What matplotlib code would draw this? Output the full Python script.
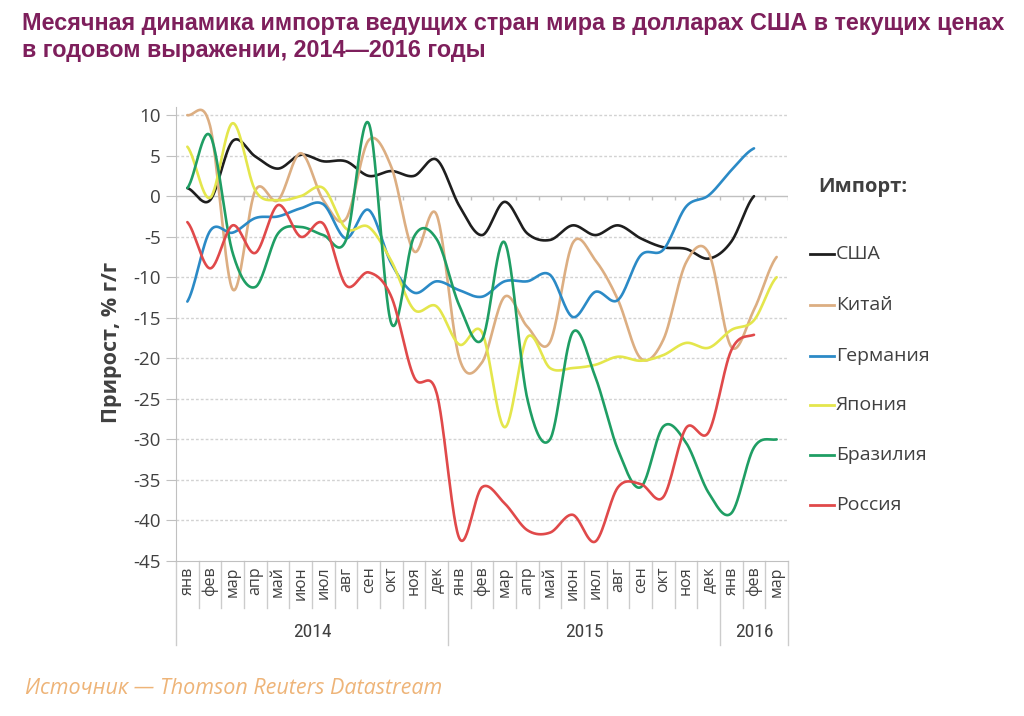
import numpy as np
import matplotlib
matplotlib.use("Agg")
import matplotlib.pyplot as plt
from matplotlib import font_manager
import matplotlib.transforms as mtransforms

# ---------------- data ----------------
months = ["янв", "фев", "мар", "апр", "май", "июн", "июл", "авг", "сен", "окт", "ноя", "дек",
          "янв", "фев", "мар", "апр", "май", "июн", "июл", "авг", "сен", "окт", "ноя", "дек",
          "янв", "фев", "мар"]
years = ["2014", "2015", "2016"]
year_first = [0, 12, 24]
year_last = [11, 23, 26]

usa = [1.0, -0.5, 6.8, 4.9, 3.4, 5.1, 4.3, 4.3, 2.5, 3.1, 2.5, 4.5,
       -1.2, -4.8, -0.7, -4.6, -5.4, -3.6, -4.8, -3.6, -5.2, -6.3, -6.5, -7.7,
       -5.6, 0.0]
china = [10.0, 8.7, -11.5, 0.7, -0.5, 5.3, -0.5, -2.8, 6.9, 3.6, -6.8, -2.3,
         -20.0, -20.5, -12.4, -16.1, -18.0, -5.8, -7.9, -12.8, -20.0, -17.7, -8.2, -7.0,
         -18.6, -14.0, -7.5]
germany = [-13.0, -4.3, -4.5, -2.7, -2.5, -1.5, -1.0, -5.2, -1.7, -8.3, -11.9, -10.5,
           -11.6, -12.4, -10.5, -10.5, -9.7, -14.9, -11.8, -12.8, -7.3, -6.6, -1.3, 0.1,
           3.2, 5.9]
japan = [6.1, -0.2, 9.0, 0.7, -0.5, 0.0, 1.0, -4.0, -3.8, -8.0, -14.0, -13.6,
         -18.3, -16.8, -28.5, -17.4, -21.2, -21.2, -20.8, -19.8, -20.3, -19.6, -18.1, -18.7,
         -16.5, -15.3, -10.0]
brazil = [1.0, 7.5, -7.0, -11.2, -4.6, -3.8, -4.8, -5.4, 9.0, -15.7, -5.0, -5.3,
          -13.5, -17.7, -5.7, -25.0, -30.0, -16.8, -22.3, -31.3, -35.9, -28.4, -30.4, -36.6,
          -39.1, -31.0, -30.0]
russia = [-3.2, -8.9, -3.6, -7.0, -1.1, -5.0, -3.4, -11.0, -9.4, -12.4, -22.3, -24.3,
          -42.2, -35.9, -37.9, -41.2, -41.5, -39.3, -42.6, -35.9, -35.5, -37.1, -28.6, -29.1,
          -19.0, -17.1]

series_names = ["США", "Китай", "Германия", "Япония", "Бразилия", "Россия"]
series_values = [usa, china, germany, japan, brazil, russia]
series_colors = ["#1e1e1e", "#dcae82", "#2b8ac6", "#e4e64c", "#1f9e64", "#e0494a"]

legend_title = "Импорт:"
y_label = "Прирост, % г/г"
title = ("Месячная динамика импорта ведущих стран мира в долларах США в текущих ценах\n"
         "в годовом выражении, 2014\u20142016 годы")
source = "Источник \u2014 Thomson Reuters Datastream"


# ---------------- helpers ----------------
def pick(fams):
    avail = {f.name for f in font_manager.fontManager.ttflist}
    for f in fams:
        if f in avail:
            return f
    return "DejaVu Sans"


def smooth(vals, n=30):
    y = np.asarray(vals, float)
    m = len(y)
    xs, ys = [], []
    for i in range(m - 1):
        p0 = y[i - 1] if i > 0 else y[i]
        p1, p2 = y[i], y[i + 1]
        p3 = y[i + 2] if i + 2 < m else y[i + 1]
        t = np.linspace(0, 1, n, endpoint=False)
        yy = 0.5 * (2 * p1 + (-p0 + p2) * t + (2 * p0 - 5 * p1 + 4 * p2 - p3) * t ** 2
                    + (-p0 + 3 * p1 - 3 * p2 + p3) * t ** 3)
        xs.append(i + t)
        ys.append(yy)
    xs.append(np.array([m - 1.0]))
    ys.append(np.array([y[-1]]))
    return np.concatenate(xs), np.concatenate(ys)


title_font = pick(["Liberation Sans", "Roboto", "DejaVu Sans"])
body_font = pick(["Open Sans", "Noto Sans", "Lato"])
narrow_font = pick(["Liberation Sans Narrow", "Roboto Condensed", "Roboto"])

W, H = 1024, 716
fig = plt.figure(figsize=(W / 100, H / 100), dpi=100)
fig.patch.set_facecolor("white")

ax_left, ax_right, ax_top, ax_bot = 176, 788, 107, 561
ax = fig.add_axes([ax_left / W, 1 - ax_bot / H, (ax_right - ax_left) / W, (ax_bot - ax_top) / H])
ax.set_xlim(-0.5, len(months) - 0.5)
ax.set_ylim(-45, 11)

grid_col = "#d2d2d2"
for v in range(-40, 11, 5):
    if v == 0:
        continue
    ax.axhline(v, color=grid_col, lw=1.0, ls=(0, (2, 1.5)), zorder=1)
ax.axhline(0, color="#c0c0c0", lw=1.0, zorder=1)
ax.vlines(np.arange(len(months) + 1) - 0.5, -0.5, 0.0, color="#c0c0c0", lw=1.0, zorder=1)

for name, vals, col in zip(series_names, series_values, series_colors):
    xs, ys = smooth(vals)
    ax.plot(xs, ys, color=col, lw=1.9, solid_capstyle="round", zorder=3, clip_on=False)

for s in ["top", "right"]:
    ax.spines[s].set_visible(False)
ax.spines["left"].set_color("#c0c0c0")
ax.spines["bottom"].set_color("#c0c0c0")
ax.spines["left"].set_bounds(-45, 11)

ax.set_yticks(range(-45, 11, 5))
ax.set_yticklabels([str(v) for v in range(-45, 11, 5)], fontsize=13.5, color="#404040",
                   fontfamily=body_font)
ax.tick_params(axis="y", length=7, color="#c0c0c0", pad=4)

ax.set_xticks(range(len(months)))
ax.set_xticklabels(months, rotation=90, fontsize=11.5, color="#404040", fontfamily=body_font)
ax.tick_params(axis="x", length=0, pad=4)

trans = mtransforms.blended_transform_factory(ax.transData, ax.transAxes)
ah = ax_bot - ax_top


def yfrac(py):
    return (ax_bot - py) / ah


for b in np.arange(1, len(months)) - 0.5:
    if b in (11.5, 23.5):
        continue
    ax.plot([b, b], [0, yfrac(608)], transform=trans, color="#cccccc", lw=1.0, clip_on=False)
for b in [-0.5, 11.5, 23.5, len(months) - 0.5]:
    ax.plot([b, b], [0, yfrac(645)], transform=trans, color="#cccccc", lw=1.0, clip_on=False)

for yr, a, b in zip(years, year_first, year_last):
    ax.text((a + b) / 2, yfrac(632), yr, transform=trans, ha="center", va="center",
            fontsize=14, color="#404040", fontfamily=narrow_font)

fig.text(112 / W, 1 - 342 / H, y_label, rotation=90, ha="center", va="center",
         fontsize=15.5, fontweight="bold", color="#404040", fontfamily=body_font)

# legend
fig.text(818 / W, 1 - 187 / H, legend_title, ha="left", va="center", fontsize=14.5,
         fontweight="bold", color="#404040", fontfamily=body_font)
leg_y = [254, 305, 356, 405, 455, 505]
for name, col, py in zip(series_names, series_colors, leg_y):
    fig.add_artist(plt.Line2D([810 / W, 834 / W], [1 - py / H, 1 - py / H], color=col, lw=2.0))
    fig.text(836 / W, 1 - py / H, name, ha="left", va="center", fontsize=14,
             color="#404040", fontfamily=body_font)

fig.text(22 / W, 1 - 12 / H, title, ha="left", va="top", fontsize=16.8, fontweight="bold",
         color="#7e1f5c", fontfamily=title_font, linespacing=1.2)

fig.text(25 / W, 1 - 688 / H, source, ha="left", va="center", fontsize=15.5,
         style="italic", color="#eeb478", fontfamily=body_font)

fig.savefig("out.png", dpi=100)
